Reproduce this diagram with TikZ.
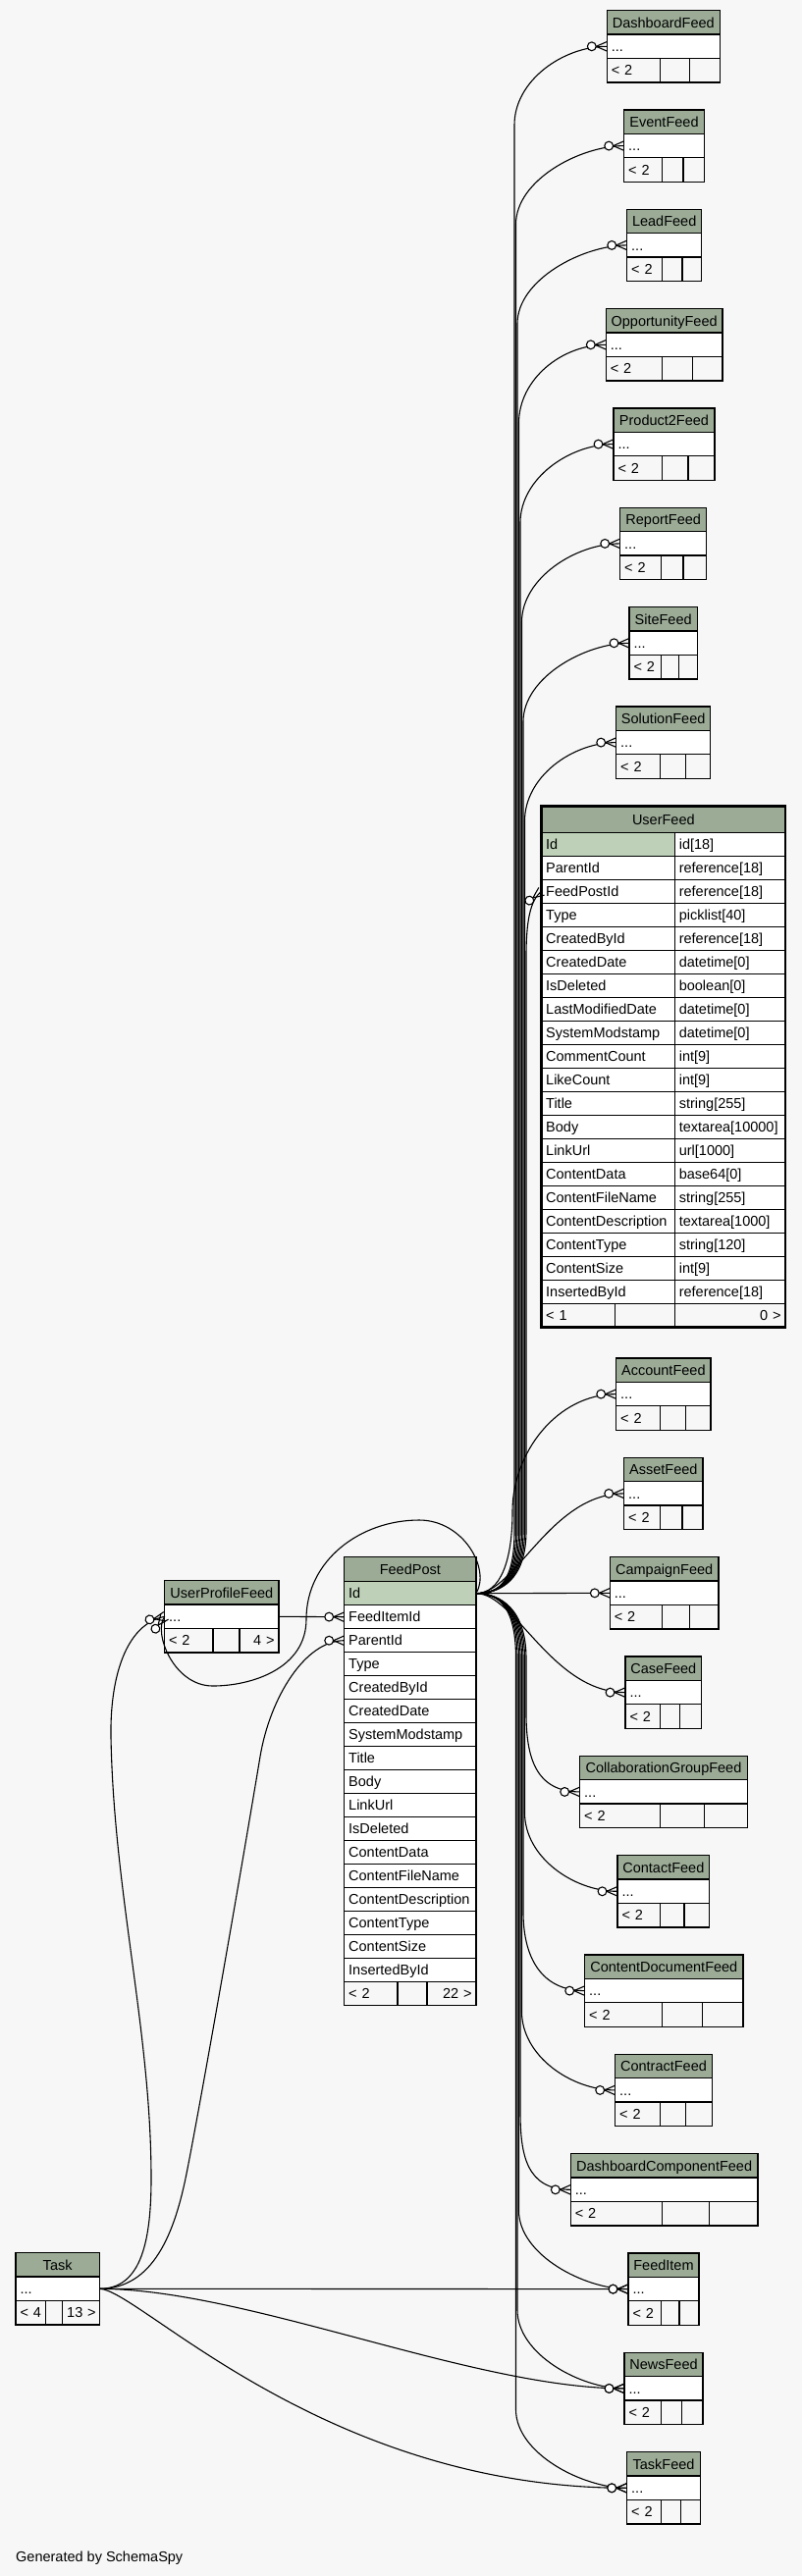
\documentclass[tikz,border=0pt]{standalone}
\usepackage{fontspec}
\setmainfont{Liberation Sans}
\usetikzlibrary{arrows.meta}
\definecolor{headgreen}{HTML}{9BAB96}
\definecolor{keygreen}{HTML}{BED1B8}
\definecolor{paper}{HTML}{F7F7F7}

\pgfdeclarearrow{
  name = CrowO,
  setup code = {
    \pgfarrowssettipend{0pt}
    \pgfarrowssetlineend{0pt}
    \pgfarrowssetbackend{-21pt}
    \pgfarrowssetvisualbackend{-21pt}
    \pgfarrowshullpoint{0pt}{5pt}
    \pgfarrowshullpoint{0pt}{-5pt}
    \pgfarrowshullpoint{-21pt}{5pt}
    \pgfarrowshullpoint{-21pt}{-5pt}
  },
  drawing code = {
    \pgfsetlinewidth{1.1pt}
    \pgfsetdash{}{0pt}
    \pgfpathmoveto{\pgfqpoint{0pt}{4.8pt}}
    \pgfpathlineto{\pgfqpoint{-11pt}{0pt}}
    \pgfpathlineto{\pgfqpoint{0pt}{-4.8pt}}
    \pgfusepathqstroke
    \pgfpathcircle{\pgfqpoint{-15.5pt}{0pt}}{4.4pt}
    \pgfsetfillcolor{white}
    \pgfusepathqfillstroke
  }
}

\newcommand{\feedtable}[9]{%
  \pgfmathsetmacro\tblw{#5-#3}%
  \pgfmathsetmacro\tblr{#5-#3-9}%
  \pgfmathsetmacro\tbla{#6-#3-9}%
  \pgfmathsetmacro\tblb{#7-#6-9}%
  \pgfmathsetmacro\tblc{#5-#7-9}%
  \node[hdr, minimum width=\tblw] (#1) at (#3,#4) {#2};
  \node[cell, text width=\tblr pt] (#1-row) at (#1.south west) {...};
  \node[foot, text width=\tbla pt] (#1-f1) at (#1-row.south west) {#8};
  \node[foot, text width=\tblb pt] (#1-f2) at (#1-f1.north east) {};
  \node[foot, text width=\tblc pt, align=right] (#1-f3) at (#1-f2.north east) {#9};
}

\begin{document}
\begin{tikzpicture}[x=1pt, y=-1pt, font=\fontsize{14.5}{17}\selectfont,
    hdr/.style={draw, fill=headgreen, line width=1.3, minimum height=24.4, inner sep=0,
      outer sep=0, anchor=north west, text height=10.5, text depth=0},
    cell/.style={draw, fill=white, line width=1.3, minimum height=24.4, inner xsep=4.5,
      inner ysep=0, outer sep=0, anchor=north west, align=left, text height=10.5, text depth=0},
    foot/.style={cell, fill=paper},
    pk/.style={fill=keygreen},
    fk/.style={line width=1.1, -{CrowO[]}}]
\fill[paper] (0,0) rectangle (817,2625);
\useasboundingbox (0,0) rectangle (817,2625);

\feedtable{dashfeed}{DashboardFeed}{618.3}{10.7}{733.3}{672.7}{702.3}{<~2}{}
\feedtable{eventfeed}{EventFeed}{635.7}{112}{717.3}{674.3}{696}{<~2}{}
\feedtable{leadfeed}{LeadFeed}{638.7}{213.3}{714.7}{674.3}{695}{<~2}{}
\feedtable{oppfeed}{OpportunityFeed}{617.3}{314.7}{736}{674.3}{705.3}{<~2}{}
\feedtable{prodfeed}{Product2Feed}{625}{416}{728}{674.3}{701}{<~2}{}
\feedtable{reportfeed}{ReportFeed}{631.7}{517.3}{719.7}{673.3}{696}{<~2}{}
\feedtable{sitefeed}{SiteFeed}{641}{618.7}{710.3}{673.3}{691.7}{<~2}{}
\feedtable{solfeed}{SolutionFeed}{627.7}{720}{723.7}{672.7}{698.7}{<~2}{}
\feedtable{acctfeed}{AccountFeed}{627.7}{1384}{724}{672.7}{698.7}{<~2}{}
\feedtable{assetfeed}{AssetFeed}{635.7}{1485.3}{716}{672.7}{695}{<~2}{}
\feedtable{campfeed}{CampaignFeed}{621.3}{1586.7}{732}{674.3}{702.7}{<~2}{}
\feedtable{casefeed}{CaseFeed}{637}{1688}{714.7}{672.7}{692.7}{<~2}{}
\feedtable{collabfeed}{CollaborationGroupFeed}{590.7}{1789.3}{761.3}{672.7}{717.3}{<~2}{}
\feedtable{contactfeed}{ContactFeed}{629}{1890.7}{722.7}{672.7}{697}{<~2}{}
\feedtable{docfeed}{ContentDocumentFeed}{595.7}{1992}{757}{674.3}{715.7}{<~2}{}
\feedtable{contractfeed}{ContractFeed}{626.7}{2093.3}{725.3}{672.7}{698.7}{<~2}{}
\feedtable{dashcompfeed}{DashboardComponentFeed}{581.3}{2194.7}{772}{674.3}{722.7}{<~2}{}
\feedtable{feeditem}{FeedItem}{640}{2296}{712}{673.3}{692}{<~2}{}
\feedtable{newsfeed}{NewsFeed}{636}{2397.3}{716}{673.3}{694.7}{<~2}{}
\feedtable{taskfeed}{TaskFeed}{638.7}{2498.7}{713.3}{673.3}{693.3}{<~2}{}
\feedtable{task}{Task}{16}{2295.7}{101.3}{46.7}{63.7}{<~4}{13~>}
\feedtable{upf}{UserProfileFeed}{167.7}{1610.7}{284}{217}{244}{<~2}{4~>}

\node[hdr, minimum width=134.3, minimum height=25] (fp) at (350.7,1586.7) {FeedPost};
\node[cell, pk, text width=125.3, minimum height=24] (fp-1) at (fp.south west) {Id};
\foreach \col [count=\i from 2] in {FeedItemId,ParentId,Type,CreatedById,CreatedDate,SystemModstamp,Title,Body,LinkUrl,IsDeleted,ContentData,ContentFileName,ContentDescription,ContentType,ContentSize,InsertedById}
  \node[cell, text width=125.3, minimum height=24] (fp-\i) at (350.7,1587.7+24*\i) {\col};
\node[foot, text width=45.3, minimum height=24] (fp-f1) at (350.7,2019.7) {<~2};
\node[foot, text width=21, minimum height=24] (fp-f2) at (fp-f1.north east) {};
\node[foot, text width=41, minimum height=24, align=right] (fp-f3) at (fp-f2.north east) {22~>};

\node[hdr, minimum width=248.3, minimum height=26.6] (uf) at (551.7,821.7) {UserFeed};
\node[cell, pk, text width=126.6, minimum height=24] (uf-1) at (uf.south west) {Id};
\node[cell, text width=103.7, minimum height=24] (uf-1-t) at (uf-1.north east) {id[18]};
\foreach \col/\typ [count=\i from 2] in {ParentId/reference[18],FeedPostId/reference[18],Type/picklist[40],CreatedById/reference[18],CreatedDate/datetime[0],IsDeleted/boolean[0],LastModifiedDate/datetime[0],SystemModstamp/datetime[0],CommentCount/int[9],LikeCount/int[9],Title/string[255],Body/textarea[10000],LinkUrl/url[1000],ContentData/base64[0],ContentFileName/string[255],ContentDescription/textarea[1000],ContentType/string[120],ContentSize/int[9],InsertedById/reference[18]} {
  \node[cell, text width=126.6, minimum height=24] (uf-\i) at (551.7,824.3+24*\i) {\col};
  \node[cell, text width=103.7, minimum height=24] (uf-\i-t) at (uf-\i.north east) {\typ};
}
\node[foot, text width=66, minimum height=24] (uf-f1) at (551.7,1328.3) {<~1};
\node[foot, text width=52, minimum height=24] (uf-f2) at (uf-f1.north east) {};
\node[foot, text width=103.3, minimum height=24, align=right] (uf-f3) at (uf-f2.north east) {0~>};
\draw[line width=2.8] (uf.north west) rectangle (uf-f3.south east);

\node[anchor=base west, inner sep=0] (credit) at (16,2610) {Generated by SchemaSpy};

\draw[fk] (fp-1.east) .. controls +(25,0) and +(0,50) .. (524,1560) -- (524,127.3) .. controls +(0,-45) and +(-45,0) .. (dashfeed-row.west);
\draw[fk] (fp-1.east) .. controls +(25,0) and +(0,50) .. (525.5,1560) -- (525.5,228.6) .. controls +(0,-45) and +(-45,0) .. (eventfeed-row.west);
\draw[fk] (fp-1.east) .. controls +(25,0) and +(0,50) .. (527,1560) -- (527,329.9) .. controls +(0,-45) and +(-45,0) .. (leadfeed-row.west);
\draw[fk] (fp-1.east) .. controls +(25,0) and +(0,50) .. (528.5,1560) -- (528.5,431.3) .. controls +(0,-45) and +(-45,0) .. (oppfeed-row.west);
\draw[fk] (fp-1.east) .. controls +(25,0) and +(0,50) .. (530,1560) -- (530,532.6) .. controls +(0,-45) and +(-45,0) .. (prodfeed-row.west);
\draw[fk] (fp-1.east) .. controls +(25,0) and +(0,50) .. (531.5,1560) -- (531.5,633.9) .. controls +(0,-45) and +(-45,0) .. (reportfeed-row.west);
\draw[fk] (fp-1.east) .. controls +(25,0) and +(0,50) .. (533,1560) -- (533,735.3) .. controls +(0,-45) and +(-45,0) .. (sitefeed-row.west);
\draw[fk] (fp-1.east) .. controls +(25,0) and +(0,50) .. (534.5,1560) -- (534.5,836.6) .. controls +(0,-45) and +(-45,0) .. (solfeed-row.west);
\draw[fk] (fp-1.east) .. controls +(25,0) and +(0,50) .. (536,1560) -- (536,975) .. controls +(0,-35) and +(-12,9) .. (uf-3.west);
\draw[fk] (fp-1.east) .. controls +(25,0) and +(0,50) .. (522,1540) .. controls +(0,-60) and +(-60,0) .. (acctfeed-row.west);
\draw[fk] (fp-1.east) .. controls +(40,0) and +(-75,0) .. (assetfeed-row.west);
\draw[fk] (fp-1.east) -- (campfeed-row.west);
\draw[fk] (fp-1.east) .. controls +(40,0) and +(-75,0) .. (casefeed-row.west);
\draw[fk] (fp-1.east) .. controls +(25,0) and +(0,-50) .. (536,1690) -- (536,1745.9) .. controls +(0,45) and +(-45,0) .. (collabfeed-row.west);
\draw[fk] (fp-1.east) .. controls +(25,0) and +(0,-50) .. (534.5,1690) -- (534.5,1847.3) .. controls +(0,45) and +(-45,0) .. (contactfeed-row.west);
\draw[fk] (fp-1.east) .. controls +(25,0) and +(0,-50) .. (533,1690) -- (533,1948.6) .. controls +(0,45) and +(-45,0) .. (docfeed-row.west);
\draw[fk] (fp-1.east) .. controls +(25,0) and +(0,-50) .. (531.5,1690) -- (531.5,2049.9) .. controls +(0,45) and +(-45,0) .. (contractfeed-row.west);
\draw[fk] (fp-1.east) .. controls +(25,0) and +(0,-50) .. (530,1690) -- (530,2151.3) .. controls +(0,45) and +(-45,0) .. (dashcompfeed-row.west);
\draw[fk] (fp-1.east) .. controls +(25,0) and +(0,-50) .. (528.5,1690) -- (528.5,2252.6) .. controls +(0,45) and +(-45,0) .. (feeditem-row.west);
\draw[fk] (fp-1.east) .. controls +(25,0) and +(0,-50) .. (527,1690) -- (527,2353.9) .. controls +(0,45) and +(-45,0) .. (newsfeed-row.west);
\draw[fk] (fp-1.east) .. controls +(25,0) and +(0,-50) .. (525.5,1690) -- (525.5,2455.3) .. controls +(0,45) and +(-45,0) .. (taskfeed-row.west);
\draw[fk] (fp-1.east) .. controls +(15,-25) and +(45,0) .. (427,1549) .. controls +(-60,0) and +(0,-60) .. (312,1650) .. controls +(0,50) and +(40,0) .. (216.7,1718) .. controls +(-40,0) and +(-12,16) .. (upf-row.west);
\draw[fk] (upf-row.east) -- (fp-2.west);
\draw[fk] (task-row.east) -- (feeditem-row.west);
\draw[fk] (task-row.east) .. controls +(150,0) and +(-155,0) .. (newsfeed-row.west);
\draw[fk] (task-row.east) .. controls +(40,0) and +(-310,0) .. (taskfeed-row.west);
\draw[fk] (task-row.east) .. controls +(40,0) and +(0,70) .. (154,2220) .. controls +(0,-150) and +(3,160) .. (113,1770) .. controls +(-1,-60) and +(-40,8) .. (upf-row.west);
\draw[fk] (task-row.east) .. controls +(55,0) and +(-12,60) .. (190,2215) .. controls +(12,-60) and +(-25,150) .. (265,1790) .. controls +(10,-60) and +(-40,0) .. (fp-3.west);
\end{tikzpicture}
\end{document}
